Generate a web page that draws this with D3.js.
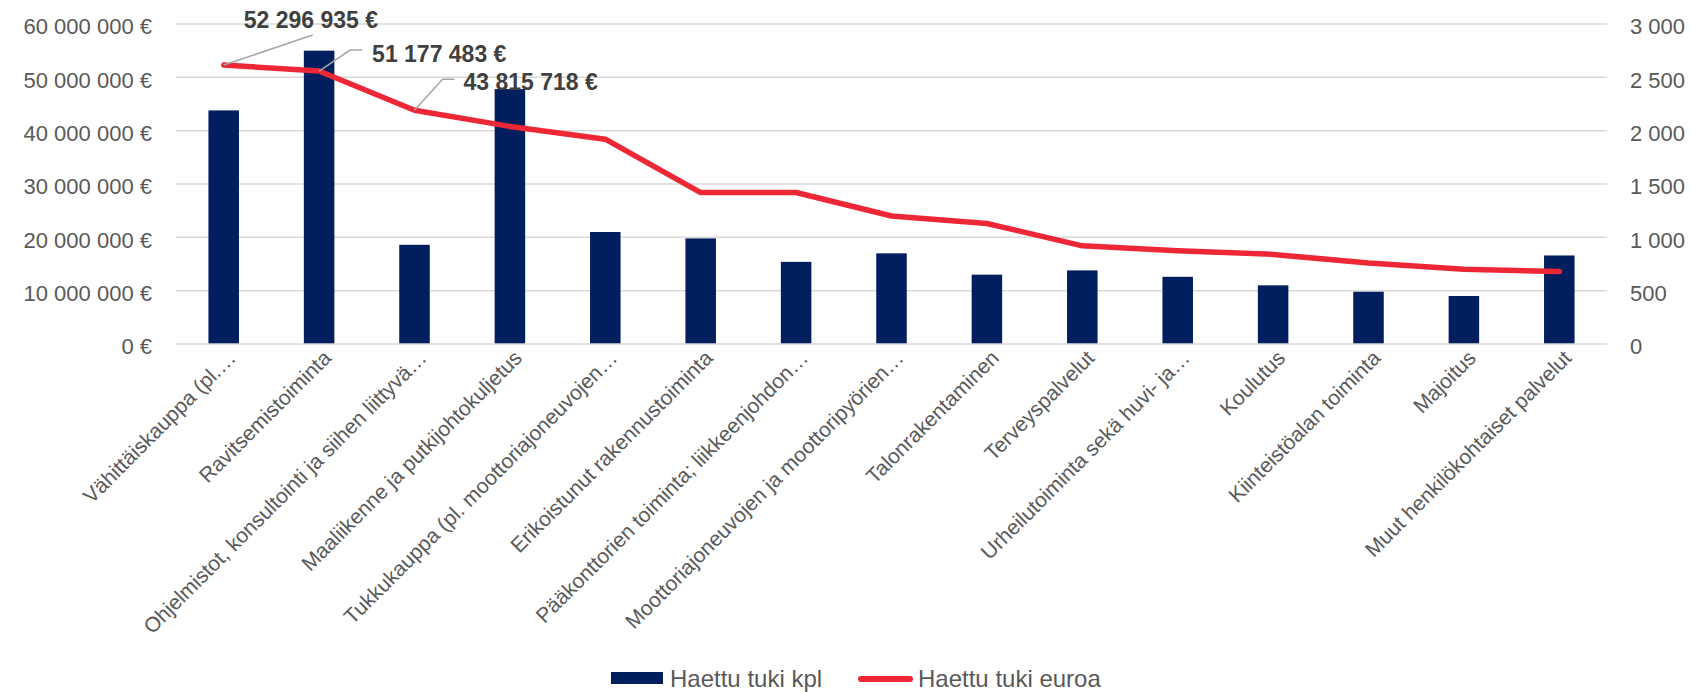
<!DOCTYPE html>
<html>
<head>
<meta charset="utf-8">
<script src="https://cdn.jsdelivr.net/npm/d3@7"></script>
<style>
  body { margin: 0; background: #fff; }
  text { font-family: "Liberation Sans", Arial, sans-serif; }
</style>
</head>
<body>
<div id="chart"></div>
<script>
// Toimialat ja arvot
const toimialat = [
  "Vähittäiskauppa (pl.…",
  "Ravitsemistoiminta",
  "Ohjelmistot, konsultointi ja siihen liittyvä…",
  "Maaliikenne ja putkijohtokuljetus",
  "Tukkukauppa (pl. moottoriajoneuvojen…",
  "Erikoistunut rakennustoiminta",
  "Pääkonttorien toiminta; liikkeenjohdon…",
  "Moottoriajoneuvojen ja moottoripyörien…",
  "Talonrakentaminen",
  "Terveyspalvelut",
  "Urheilutoiminta sekä huvi- ja…",
  "Koulutus",
  "Kiinteistöalan toiminta",
  "Majoitus",
  "Muut henkilökohtaiset palvelut"
];
const tukiKpl = [2190, 2750, 930, 2390, 1050, 990, 770, 850, 650, 690, 630, 550, 490, 450, 830];
const tukiEuroa = [52296935, 51177483, 43815718, 40800000, 38400000, 28400000, 28400000,
                   24000000, 22600000, 18400000, 17500000, 16800000, 15200000, 14000000, 13600000];
const euroTicks = [0, 10000000, 20000000, 30000000, 40000000, 50000000, 60000000];
const kplTicks = [0, 500, 1000, 1500, 2000, 2500, 3000];
const sarjat = ["Haettu tuki kpl", "Haettu tuki euroa"];

const navy = "#011e5f", red = "#ee2737", grey = "#595959";

// Kuvion koko
const margin = { top: 24, right: 86, bottom: 348, left: 176 },
      width = 1693 - margin.left - margin.right,
      height = 692 - margin.top - margin.bottom;

const root = d3.select("#chart")
  .append("svg")
    .attr("width", 1693)
    .attr("height", 692);

const svg = root.append("g")
    .attr("transform", `translate(${margin.left},${margin.top})`);

const fi = d3.formatLocale({ decimal: ",", thousands: " ", grouping: [3], currency: ["", " €"] });
const fmtEur = d => fi.format(",d")(d) + " €";
const fmtKpl = fi.format(",d");

// Asteikot
const x = d3.scaleBand().domain(toimialat).range([0, width]).padding(0);
const barW = x.bandwidth() * 0.32;
const cx = d => x(d) + x.bandwidth() / 2;

const yEur = d3.scaleLinear().domain([0, 60000000]).range([height, 0]);
const yKpl = d3.scaleLinear().domain([0, 3000]).range([height, 0]);

// Ruudukko
svg.append("g")
  .selectAll("line")
  .data(euroTicks.slice(1))
  .join("line")
    .attr("x1", 0).attr("x2", width)
    .attr("y1", d => yEur(d)).attr("y2", d => yEur(d))
    .attr("stroke", "#d9d9d9")
    .attr("stroke-width", 1.5);

// Akselit
const yLeft = svg.append("g")
  .call(d3.axisLeft(yEur).tickValues(euroTicks).tickSize(0).tickPadding(24).tickFormat(fmtEur));
const yRight = svg.append("g")
  .attr("transform", `translate(${width},0)`)
  .call(d3.axisRight(yKpl).tickValues(kplTicks).tickSize(0).tickPadding(23).tickFormat(fmtKpl));

[yLeft, yRight].forEach(a => {
  a.select(".domain").remove();
  a.selectAll("text")
    .attr("dy", "0.45em")
    .style("font-size", "22px")
    .style("font-family", "'Liberation Sans', Arial, sans-serif")
    .attr("fill", grey);
});

// Pylväät
svg.selectAll(".bar")
  .data(toimialat)
  .join("rect")
    .attr("class", "bar")
    .attr("x", d => x(d) + (x.bandwidth() - barW) / 2)
    .attr("y", (d, i) => yKpl(tukiKpl[i]))
    .attr("width", barW)
    .attr("height", (d, i) => height - yKpl(tukiKpl[i]))
    .attr("fill", navy);

// Nollaviiva
svg.append("line")
  .attr("x1", 0).attr("x2", width)
  .attr("y1", height).attr("y2", height)
  .attr("stroke", "#d9d9d9")
  .attr("stroke-width", 1.5);

// Viiva
const line = d3.line()
  .x((d, i) => cx(toimialat[i]))
  .y(d => yEur(d));

svg.append("path")
  .datum(tukiEuroa)
  .attr("d", line)
  .attr("fill", "none")
  .attr("stroke", red)
  .attr("stroke-width", 5.5)
  .attr("stroke-linejoin", "round")
  .attr("stroke-linecap", "round");

// Arvomerkinnät kolmelle ensimmäiselle
const leaders = [
  { pts: [[89, -30]], tx: 20, ty: -37 },
  { pts: [[31, -21], [43, -21]], tx: 53, ty: -9 },
  { pts: [[28, -31], [40, -31]], tx: 49, ty: -20 }
];
leaders.forEach((l, i) => {
  const px = cx(toimialat[i]), py = yEur(tukiEuroa[i]);
  const p = [[px, py]].concat(l.pts.map(([dx, dy]) => [px + dx, py + dy]));
  svg.append("path")
    .attr("d", d3.line()(p))
    .attr("fill", "none")
    .attr("stroke", "#a6a6a6")
    .attr("stroke-width", 1.5);
  svg.append("text")
    .attr("x", px + l.tx)
    .attr("y", py + l.ty)
    .style("font-size", "23px")
    .style("font-weight", "bold")
    .attr("fill", "#404040")
    .text(fmtEur(tukiEuroa[i]));
});

// Kategorianimet
svg.append("g")
  .selectAll("text")
  .data(toimialat)
  .join("text")
    .attr("transform", d => `translate(${cx(d) + 8},${height + 10}) rotate(-45)`)
    .attr("text-anchor", "end")
    .attr("dominant-baseline", "central")
    .style("font-size", "21px")
    .attr("fill", grey)
    .text(d => d);

// Selite
const leg = root.append("g");
leg.append("rect")
  .attr("x", 611).attr("y", 672)
  .attr("width", 52).attr("height", 12)
  .attr("fill", navy);
leg.append("text")
  .attr("x", 670).attr("y", 687)
  .style("font-size", "24px")
  .attr("fill", grey)
  .text(sarjat[0]);
leg.append("line")
  .attr("x1", 861).attr("x2", 910)
  .attr("y1", 679).attr("y2", 679)
  .attr("stroke", red)
  .attr("stroke-width", 6)
  .attr("stroke-linecap", "round");
leg.append("text")
  .attr("x", 918).attr("y", 687)
  .style("font-size", "24px")
  .attr("fill", grey)
  .text(sarjat[1]);
</script>
</body>
</html>
